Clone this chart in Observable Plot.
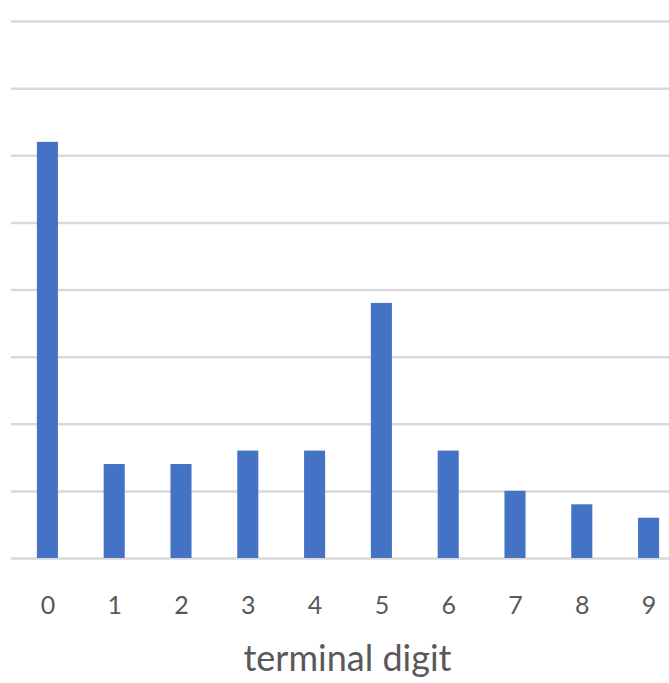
<!DOCTYPE html>
<html>
<head>
<meta charset="utf-8">
<script src="https://cdn.jsdelivr.net/npm/d3@7"></script>
<script src="https://cdn.jsdelivr.net/npm/@observablehq/plot@0.6"></script>
<style>
  html, body { margin: 0; padding: 0; background: #fff; overflow: hidden; }
</style>
</head>
<body>
<div id="chart"></div>
<script>
const digits = ["0","1","2","3","4","5","6","7","8","9"];
const counts = [31, 7, 7, 8, 8, 19, 8, 5, 4, 3];
const gridValues = [0, 5, 10, 15, 20, 25, 30, 35, 40];
const xLabel = "terminal digit";

const data = digits.map((d, i) => ({digit: d, count: counts[i]}));

const chart = Plot.plot({
  width: 669,
  height: 683,
  marginTop: 21,
  marginBottom: 125,
  marginLeft: 11,
  marginRight: 0,
  style: {fontFamily: "Lato, 'Open Sans', sans-serif", background: "#fff"},
  x: {domain: digits, range: [14, 682], paddingInner: 0.685, paddingOuter: 0.3425, align: 0.5, round: false},
  y: {domain: [0, 40], axis: null},
  marks: [
    Plot.ruleY(gridValues, {stroke: "#d9d9d9", strokeWidth: 2.5}),
    Plot.barY(data, {x: "digit", y: "count", fill: "#4472C4"}),
    Plot.axisX({tickSize: 0, tickPadding: 38, fontSize: 25, color: "#595959", label: null}),
    Plot.text([xLabel], {frameAnchor: "bottom", dx: 7, dy: 112, fontSize: 36, fill: "#595959"})
  ]
});
document.getElementById("chart").appendChild(chart);
</script>
</body>
</html>
